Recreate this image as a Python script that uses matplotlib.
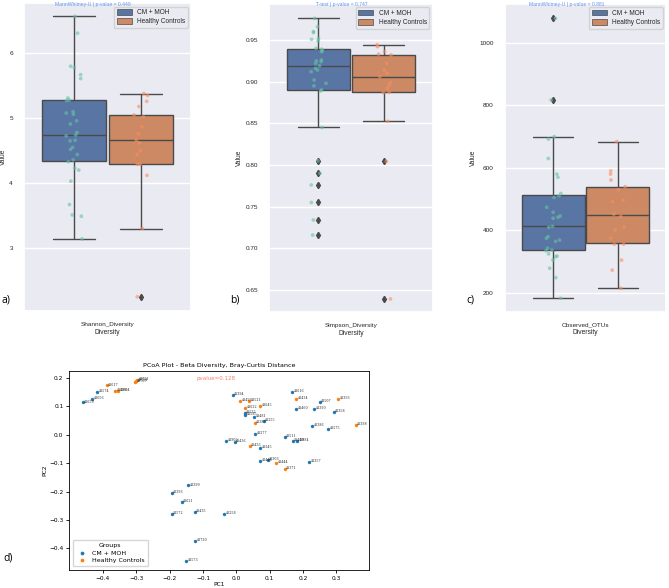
import numpy as np
import pandas as pd
import matplotlib
matplotlib.use("Agg")
import matplotlib.pyplot as plt
from matplotlib.patches import Patch
import seaborn as sns

# ---------------- data ----------------
groups = ["CM + MOH", "Healthy Controls"]

shannon_cm = [6.57, 6.31, 5.80, 5.78, 5.67, 5.61, 5.31, 5.28, 5.27, 5.10, 5.08,
              5.06, 4.96, 4.91, 4.78, 4.74, 4.73, 4.66, 4.65, 4.55, 4.52, 4.44,
              4.36, 4.33, 4.23, 4.20, 4.03, 3.67, 3.51, 3.49, 3.14]
shannon_hc = [5.38, 5.35, 5.26, 5.18, 5.05, 5.02, 4.87, 4.76, 4.66, 4.62, 4.50,
              4.44, 4.29, 4.29, 4.12, 3.30, 2.25]

simpson_cm = [0.976, 0.966, 0.960, 0.959, 0.952, 0.9508, 0.949, 0.940, 0.939,
              0.937, 0.936, 0.926, 0.925, 0.924, 0.922, 0.919, 0.916, 0.914,
              0.912, 0.902, 0.898, 0.895, 0.890, 0.889, 0.845, 0.805, 0.790,
              0.776, 0.755, 0.734, 0.716]
simpson_hc = [0.9444, 0.942, 0.936, 0.933, 0.932, 0.922, 0.914, 0.910, 0.906,
              0.899, 0.896, 0.892, 0.887, 0.887, 0.8524, 0.8044, 0.6392]

otus_cm = [1078, 817, 700, 692, 630, 580, 570, 518, 511, 505, 474, 458, 446,
           442, 439, 413, 410, 380, 375, 369, 365, 343, 337, 335, 325, 318,
           316, 305, 279, 249, 183]
otus_hc = [684, 590, 580, 561, 540, 530, 497, 492, 452, 445, 410, 401, 375,
           356, 356, 305, 273, 215]

metrics = ["Shannon_Diversity", "Simpson_Diversity", "Observed_OTUs"]
test_labels = ["MannWhitney-U | p-value = 0.449",
               "T-test | p-value = 0.747",
               "MannWhitney-U | p-value = 0.881"]
panel_tags = ["a)", "b)", "c)"]

pc1 = [-0.461, -0.433, -0.418, -0.389, -0.364, -0.355, -0.304, -0.300, -0.297,
       -0.011, 0.012, 0.039, 0.167, 0.180, 0.250, 0.305, 0.026, 0.071, 0.025,
       0.026, 0.053, 0.179, 0.234, 0.292, 0.055, 0.082, 0.227, 0.276, 0.358,
       0.056, 0.145, 0.169, 0.182, -0.031, -0.005, 0.040, 0.072, 0.072, 0.094,
       0.119, 0.219, 0.145, -0.145, -0.194, -0.164, -0.194, -0.125, -0.037,
       -0.124, -0.151]
pc2 = [0.114, 0.127, 0.150, 0.174, 0.155, 0.155, 0.185, 0.190, 0.194, 0.142,
       0.119, 0.119, 0.152, 0.126, 0.115, 0.126, 0.094, 0.101, 0.078, 0.071,
       0.062, 0.091, 0.091, 0.080, 0.042, 0.048, 0.031, 0.022, 0.035, 0.004,
       -0.008, -0.020, -0.020, -0.021, -0.026, -0.039, -0.046, -0.092, -0.088,
       -0.100, -0.095, -0.121, -0.178, -0.203, -0.236, -0.277, -0.272, -0.277,
       -0.373, -0.444]
pc_group = ["CM + MOH", "CM + MOH", "CM + MOH", "Healthy Controls",
            "Healthy Controls", "Healthy Controls", "Healthy Controls",
            "Healthy Controls", "Healthy Controls", "CM + MOH",
            "Healthy Controls", "Healthy Controls", "CM + MOH",
            "Healthy Controls", "CM + MOH", "Healthy Controls",
            "Healthy Controls", "Healthy Controls", "CM + MOH", "CM + MOH",
            "CM + MOH", "CM + MOH", "CM + MOH", "CM + MOH", "Healthy Controls",
            "CM + MOH", "CM + MOH", "CM + MOH", "Healthy Controls", "CM + MOH",
            "CM + MOH", "CM + MOH", "CM + MOH", "CM + MOH", "CM + MOH",
            "Healthy Controls", "CM + MOH", "CM + MOH", "CM + MOH",
            "Healthy Controls", "CM + MOH", "Healthy Controls", "CM + MOH",
            "CM + MOH", "CM + MOH", "CM + MOH", "CM + MOH", "CM + MOH",
            "CM + MOH", "CM + MOH"]
pc_ids = ["41659", "41656", "41574", "41617", "41599", "41604", "41767",
          "41751", "41721", "41394", "41456", "41521", "41616", "41434",
          "41507", "41356", "41622", "41645", "41532", "41585", "41481",
          "41460", "41390", "41358", "41387", "41255", "41386", "41575",
          "41398", "41277", "41511", "41419", "41884", "41902", "41436",
          "41433", "41345", "41446", "41303", "41444", "41357", "41371",
          "41399", "41396", "41621", "41572", "41435", "41258", "41720",
          "41573"]
pvalue_text = "pvalue=0.128"

# ---------------- style ----------------
sns.set_theme(style="darkgrid")
plt.rcParams["font.family"] = ["Liberation Sans", "DejaVu Sans"]

W, H = 669, 588
fig = plt.figure(figsize=(W / 100, H / 100), dpi=100)

def px_axes(l, t, r, b):
    return fig.add_axes([l / W, 1 - b / H, (r - l) / W, (b - t) / H])

box_colors = [sns.desaturate(c, 0.75) for c in sns.color_palette("deep")[:2]]
strip_colors = sns.color_palette("Set2")[:2]
line_col = "#4a4a4a"

data_sets = [(shannon_cm, shannon_hc), (simpson_cm, simpson_hc), (otus_cm, otus_hc)]
ylims = [(2.03, 6.77), (0.6232, 0.9932), (140, 1124)]
rects = [(24, 3.3, 191, 311), (269.3, 4, 432.7, 312.3), (505, 4, 666, 311.7)]
title_x = [93, 342, 567]
tag_x = [6, 235, 470]

np.random.seed(3)
for i in range(3):
    cm_vals, hc_vals = data_sets[i]
    df = pd.DataFrame({
        "Diversity": [metrics[i]] * (len(cm_vals) + len(hc_vals)),
        "Value": list(cm_vals) + list(hc_vals),
        "Group": [groups[0]] * len(cm_vals) + [groups[1]] * len(hc_vals),
    })
    ax = px_axes(*rects[i])
    sns.boxplot(data=df, x="Diversity", y="Value", hue="Group", hue_order=groups,
                palette=box_colors, saturation=1, linecolor=line_col,
                linewidth=1.0, gap=0.03, ax=ax, legend=False,
                flierprops=dict(marker="d", markerfacecolor=line_col,
                                markeredgecolor=line_col, markersize=3.2))
    # widen whisker caps as in the reference
    for ln in ax.lines:
        xd = np.asarray(ln.get_xdata(), dtype=float)
        yd = np.asarray(ln.get_ydata(), dtype=float)
        if len(xd) == 2 and yd[0] == yd[1] and abs(xd[1] - xd[0]) < 0.3:
            c = xd.mean()
            ln.set_xdata([c - 0.125, c + 0.125])
    sns.stripplot(data=df, x="Diversity", y="Value", hue="Group", hue_order=groups,
                  palette=strip_colors, dodge=True, alpha=0.6, size=2.7,
                  linewidth=0, ax=ax, legend=False)
    ax.set_ylim(*ylims[i])
    ax.tick_params(labelsize=4.6, pad=2)
    ax.set_xlabel("Diversity", fontsize=4.8, labelpad=1)
    ax.set_ylabel("Value", fontsize=4.8, labelpad=2)
    handles = [Patch(facecolor=box_colors[k], edgecolor=line_col, linewidth=0.5,
                     label=groups[k]) for k in range(2)]
    ax.legend(handles=handles, loc="upper right", fontsize=4.7,
              handlelength=2.3, handleheight=0.9, borderpad=0.4,
              labelspacing=0.35, handletextpad=0.8)
    fig.text(title_x[i] / W, 1 - 4.5 / H, test_labels[i], color="#6495ED",
             fontsize=3.6, ha="center", va="center")
    fig.text(tag_x[i] / W, 1 - 300 / H, panel_tags[i], fontsize=7.5,
             ha="center", va="center", color="black",
             family=["Open Sans", "DejaVu Sans"])

# ---------------- PCoA ----------------
ax = px_axes(69, 370.7, 369.3, 570)
ax.set_facecolor("white")
ax.grid(False)
for s in ax.spines.values():
    s.set_visible(True)
    s.set_color("black")
    s.set_linewidth(0.6)
pcol = {"CM + MOH": "#1f77b4", "Healthy Controls": "#ff7f0e"}
for g in groups:
    xs = [pc1[k] for k in range(len(pc1)) if pc_group[k] == g]
    ys = [pc2[k] for k in range(len(pc2)) if pc_group[k] == g]
    ax.scatter(xs, ys, s=6, color=pcol[g], label=g, linewidths=0, zorder=3)
for k in range(len(pc1)):
    ax.annotate(pc_ids[k], (pc1[k], pc2[k]), xytext=(1.2, 0.6),
                textcoords="offset points", fontsize=2.3, va="center",
                family="DejaVu Serif", color="#222222")
ax.tick_params(labelsize=4.2, length=2.5, width=0.6, color="black",
               labelcolor="black", bottom=True, left=True, pad=1.5,
               labelfontfamily="DejaVu Sans")
ax.set_xticks([-0.4, -0.3, -0.2, -0.1, 0.0, 0.1, 0.2, 0.3])
ax.set_yticks([-0.4, -0.3, -0.2, -0.1, 0.0, 0.1, 0.2])
ax.set_xlabel("PC1", fontsize=4.2, family="DejaVu Sans", color="black", labelpad=1)
ax.set_ylabel("PC2", fontsize=4.2, family="DejaVu Sans", color="black", labelpad=1)
ax.set_title("PCoA Plot - Beta Diversity, Bray-Curtis Distance", fontsize=4.6,
             family="DejaVu Sans", color="black", pad=2.5)
ax.text(0.49, 0.975, pvalue_text, transform=ax.transAxes, ha="center", va="top",
        fontsize=4.0, color="#fa8072", family="DejaVu Sans")
leg = ax.legend(title="Groups", loc="lower left", title_fontsize=4.5,
                prop={"family": "DejaVu Sans", "size": 4.5}, markerscale=1.1,
                borderpad=0.5, labelspacing=0.35, handletextpad=0.6,
                borderaxespad=0.6)
leg.get_frame().set_facecolor("white")
leg.get_frame().set_edgecolor("#cccccc")
leg.get_title().set_family("DejaVu Sans")
leg.get_title().set_color("black")
for t in leg.get_texts():
    t.set_color("black")
fig.text(8 / W, 1 - 558 / H, "d)", fontsize=7.5, ha="center", va="center",
         color="black", family=["Open Sans", "DejaVu Sans"])

fig.savefig("out.png", dpi=100)
